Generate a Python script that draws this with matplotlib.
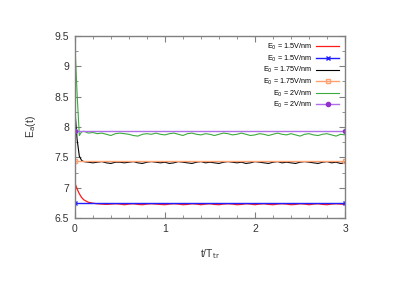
import numpy as np
import matplotlib.pyplot as plt
from matplotlib.ticker import MultipleLocator

plt.rcParams['font.family'] = ['Liberation Sans', 'DejaVu Sans']

# time grid (t / T_tr)
t = [0, 0.025, 0.05, 0.075] + list(np.round(np.arange(0.1, 3.001, 0.05), 3))

# E0 = 1.5 V/nm
e15 = [7.08, 6.98, 6.90, 6.84,
       6.80, 6.76, 6.745, 6.735, 6.73, 6.725, 6.73, 6.735, 6.73, 6.72,
       6.73, 6.735, 6.725, 6.72, 6.73, 6.735, 6.73, 6.725, 6.72, 6.73,
       6.735, 6.73, 6.72, 6.725, 6.735, 6.73, 6.72, 6.73, 6.735, 6.725,
       6.72, 6.73, 6.735, 6.73, 6.72, 6.725, 6.735, 6.73, 6.72, 6.73,
       6.735, 6.725, 6.72, 6.73, 6.735, 6.73, 6.72, 6.725, 6.735, 6.73,
       6.72, 6.73, 6.735, 6.725, 6.72, 6.73, 6.735, 6.73, 6.725]

# E0 = 1.75 V/nm
e175 = [8.30, 7.80, 7.52, 7.45,
        7.43, 7.42, 7.41, 7.42, 7.43, 7.41, 7.40, 7.42, 7.42, 7.41,
        7.42, 7.43, 7.41, 7.40, 7.42, 7.43, 7.42, 7.41, 7.42, 7.40,
        7.41, 7.43, 7.42, 7.41, 7.40, 7.42, 7.43, 7.41, 7.42, 7.41,
        7.40, 7.42, 7.43, 7.42, 7.41, 7.42, 7.40, 7.41, 7.43, 7.42,
        7.41, 7.40, 7.42, 7.43, 7.41, 7.42, 7.41, 7.40, 7.42, 7.43,
        7.42, 7.41, 7.40, 7.42, 7.43, 7.41, 7.42, 7.40, 7.41]

# E0 = 2 V/nm
e2 = [9.40, 8.55, 7.86, 7.92,
      7.93, 7.90, 7.91, 7.89, 7.90, 7.88, 7.86, 7.89, 7.90, 7.89,
      7.88, 7.86, 7.85, 7.88, 7.89, 7.88, 7.90, 7.88, 7.87, 7.89,
      7.90, 7.88, 7.86, 7.89, 7.90, 7.88, 7.87, 7.89, 7.88, 7.86,
      7.88, 7.90, 7.89, 7.87, 7.88, 7.90, 7.88, 7.86, 7.87, 7.89,
      7.88, 7.86, 7.88, 7.90, 7.88, 7.87, 7.89, 7.87, 7.85, 7.88,
      7.89, 7.87, 7.86, 7.88, 7.89, 7.87, 7.85, 7.88, 7.87]

# adiabatic levels (constant)
t_const = [0, 3]
a15 = [6.75, 6.75]
a175 = [7.44, 7.44]
a2 = [7.93, 7.93]

fig = plt.figure(figsize=(3.98, 2.81), dpi=100)
ax = fig.add_axes([0.188, 0.224, 0.679, 0.648])

ax.plot(t, e15, color='#ff1a1a', lw=0.9, label='E$_0$ = 1.5V/nm')
ax.plot(t_const, a15, color='#1f1fff', lw=1.0, marker='x', ms=3, mew=1.0,
        label='E$_0$ = 1.5V/nm')
ax.plot(t, e175, color='black', lw=0.8, label='E$_0$ = 1.75V/nm')
ax.plot(t_const, a175, color='#ffa070', lw=1.0, marker='s', ms=3, mfc='none',
        label='E$_0$ = 1.75V/nm')
ax.plot(t, e2, color='#3caa3c', lw=0.8, label='E$_0$ = 2V/nm')
ax.plot(t_const, a2, color='#b070e8', lw=1.0, marker='o', ms=3,
        mfc='#9030d0', mec='#9030d0', label='E$_0$ = 2V/nm')

ax.set_xlim(0, 3)
ax.set_ylim(6.5, 9.5)
ax.xaxis.set_major_locator(MultipleLocator(1))
ax.xaxis.set_minor_locator(MultipleLocator(0.2))
ax.yaxis.set_minor_locator(MultipleLocator(0.25))
ax.set_yticks([6.5, 7, 7.5, 8, 8.5, 9, 9.5])
ax.set_yticklabels(['6.5', '7', '7.5', '8', '8.5', '9', '9.5'])

ax.tick_params(which='both', direction='in', top=True, right=True,
               color='#808080', labelcolor='#333333', labelsize=7.5)
ax.tick_params(which='major', length=4, pad=4)
ax.tick_params(which='minor', length=2)
for s in ax.spines.values():
    s.set_color('#808080')
    s.set_linewidth(1.0)

ax.set_xlabel('t/T$_{\\rm tr}$', fontsize=7.5, color='#333333', labelpad=10)
ax.set_ylabel('E$_{\\rm a}$(t)', fontsize=7.5, color='#333333', labelpad=12)

ax.legend(loc='upper right', frameon=False, markerfirst=False, fontsize=5.2,
          handlelength=3.2, labelspacing=0.2, borderaxespad=0.4,
          handletextpad=0.6)

plt.savefig('out.png', dpi=100)
